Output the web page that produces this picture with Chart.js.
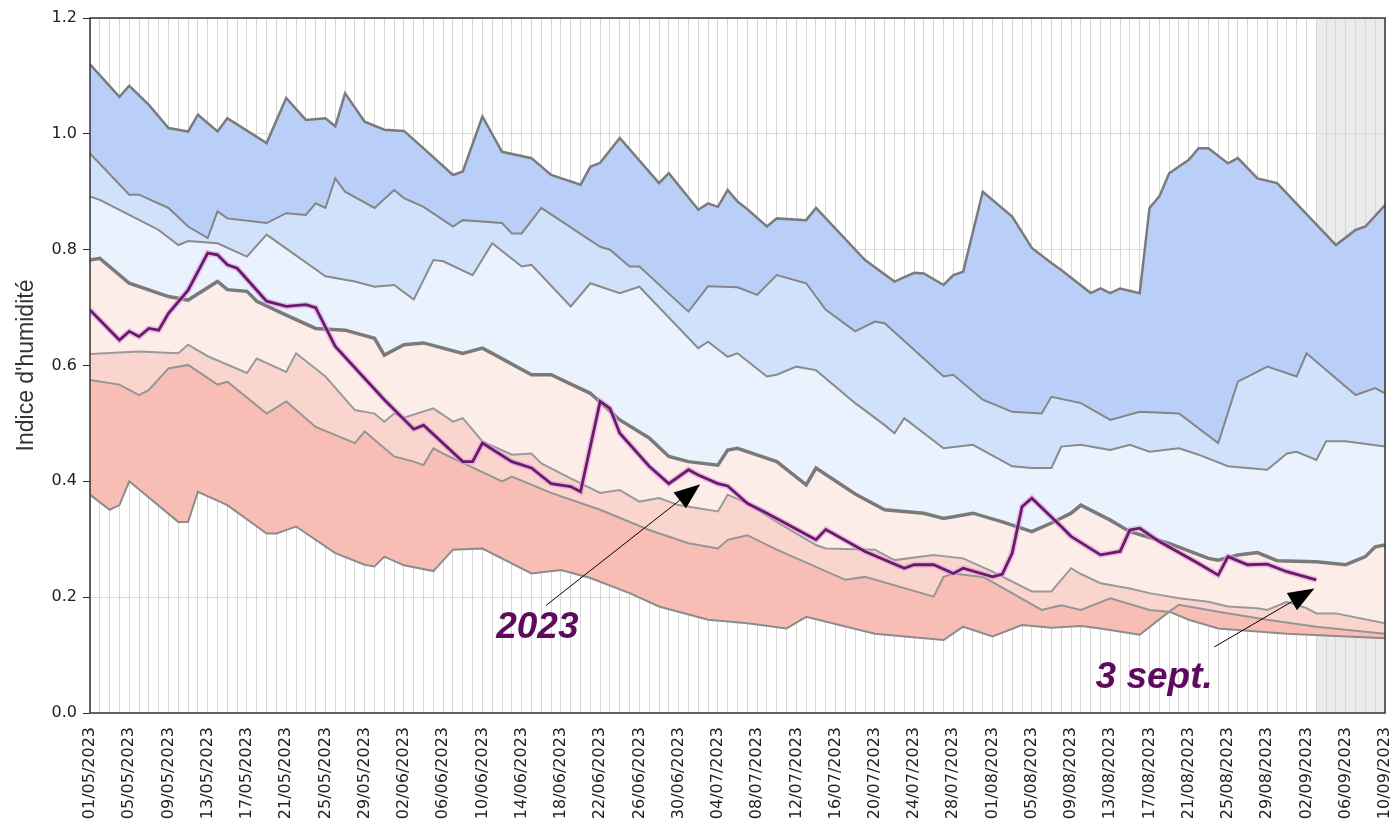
<!DOCTYPE html>
<html>
<head>
<meta charset="utf-8">
<title>Indice d'humidité 2023</title>
<script src="https://cdn.jsdelivr.net/npm/chart.js"></script>
<style>
  html, body { margin: 0; padding: 0; background: #fff; }
  #chart { display: block; }
</style>
</head>
<body>
<canvas id="chart" width="1392" height="827"></canvas>
<script>
// x = jours depuis le 01/05/2023, y = indice d'humidité
const tickLabels = ['01/05/2023', '05/05/2023', '09/05/2023', '13/05/2023', '17/05/2023', '21/05/2023',
  '25/05/2023', '29/05/2023', '02/06/2023', '06/06/2023', '10/06/2023', '14/06/2023', '18/06/2023',
  '22/06/2023', '26/06/2023', '30/06/2023', '04/07/2023', '08/07/2023', '12/07/2023', '16/07/2023',
  '20/07/2023', '24/07/2023', '28/07/2023', '01/08/2023', '05/08/2023', '09/08/2023', '13/08/2023',
  '17/08/2023', '21/08/2023', '25/08/2023', '29/08/2023', '02/09/2023', '06/09/2023', '10/09/2023'];

// [jour, valeur]
const serieMax = [[0,1.12],[3,1.064],[4,1.083],[6,1.05],[8,1.01],[10,1.004],[11,1.033],[13,1.004],[14,1.027],
  [18,0.984],[20,1.062],[22,1.024],[24,1.027],[25,1.013],[26,1.07],[28,1.021],[30,1.007],[32,1.005],[34,0.975],
  [37,0.929],[38,0.935],[40,1.03],[42,0.969],[45,0.958],[47,0.929],[50,0.912],[51,0.943],[52,0.95],[54,0.993],
  [58,0.915],[59,0.932],[62,0.869],[63,0.88],[64,0.874],[65,0.903],[66,0.883],[67,0.87],[69,0.84],[70,0.854],
  [73,0.851],[74,0.872],[79,0.782],[82,0.745],[84,0.76],[85,0.759],[87,0.739],[88,0.756],[89,0.762],[91,0.9],
  [94,0.857],[96,0.803],[98,0.777],[99,0.765],[102,0.725],[103,0.733],[104,0.725],[105,0.733],[107,0.725],
  [108,0.872],[109,0.892],[110,0.932],[112,0.955],[113,0.975],[114,0.975],[116,0.949],[117,0.958],[119,0.923],
  [121,0.915],[127,0.808],[129,0.834],[130,0.84],[132,0.877]];

const serieQ90 = [[0,0.966],[4,0.895],[5,0.895],[8,0.872],[10,0.84],[12,0.82],[13,0.866],[14,0.854],[18,0.846],
  [20,0.863],[22,0.86],[23,0.88],[24,0.872],[25,0.923],[26,0.9],[29,0.872],[31,0.903],[32,0.889],[34,0.874],
  [37,0.84],[38,0.851],[42,0.846],[43,0.828],[44,0.828],[46,0.872],[52,0.805],[53,0.8],[55,0.771],[56,0.771],
  [61,0.693],[63,0.737],[66,0.735],[68,0.722],[70,0.756],[73,0.742],[75,0.696],[78,0.659],[80,0.676],[81,0.673],
  [87,0.581],[88,0.584],[91,0.541],[94,0.52],[97,0.517],[98,0.546],[101,0.535],[104,0.506],[107,0.52],[111,0.517],
  [115,0.466],[117,0.572],[120,0.598],[123,0.581],[124,0.621],[129,0.549],[131,0.561],[132,0.552]];

const serieQ75 = [[0,0.892],[1,0.886],[4,0.86],[7,0.834],[9,0.808],[10,0.815],[13,0.811],[16,0.788],[18,0.826],
  [24,0.754],[27,0.745],[29,0.736],[31,0.739],[33,0.714],[35,0.782],[36,0.78],[39,0.756],[41,0.811],[44,0.771],
  [45,0.774],[49,0.702],[51,0.742],[54,0.725],[56,0.736],[62,0.63],[63,0.641],[65,0.615],[66,0.621],[69,0.581],
  [70,0.584],[72,0.598],[74,0.592],[78,0.535],[81,0.497],[82,0.483],[83,0.509],[87,0.457],[90,0.463],[94,0.426],
  [96,0.423],[98,0.423],[99,0.46],[101,0.463],[104,0.454],[106,0.463],[108,0.451],[111,0.457],[113,0.446],
  [116,0.426],[120,0.42],[122,0.448],[123,0.451],[125,0.437],[126,0.469],[128,0.469],[132,0.46]];

const serieMediane = [[0,0.782],[1,0.785],[4,0.742],[8,0.719],[9,0.716],[10,0.713],[13,0.745],[14,0.731],
  [16,0.728],[17,0.711],[20,0.687],[23,0.664],[26,0.661],[29,0.647],[30,0.618],[32,0.636],[34,0.639],[38,0.621],
  [40,0.63],[41,0.621],[45,0.584],[47,0.584],[51,0.552],[54,0.506],[57,0.475],[59,0.443],[61,0.434],[64,0.428],
  [65,0.454],[66,0.457],[70,0.434],[73,0.394],[74,0.423],[78,0.378],[81,0.351],[85,0.345],[87,0.336],[90,0.345],
  [93,0.33],[96,0.313],[98,0.328],[100,0.345],[101,0.359],[104,0.333],[106,0.313],[110,0.293],[114,0.267],
  [115,0.264],[117,0.273],[119,0.277],[121,0.263],[125,0.261],[128,0.256],[130,0.27],[131,0.287],[132,0.29]];

const serieQ25 = [[0,0.62],[5,0.624],[9,0.621],[10,0.636],[12,0.616],[16,0.587],[17,0.612],[20,0.589],[21,0.621],
  [24,0.581],[27,0.523],[29,0.517],[30,0.503],[31,0.517],[32,0.51],[35,0.526],[37,0.503],[38,0.509],[40,0.469],
  [43,0.446],[45,0.448],[46,0.431],[49,0.405],[52,0.38],[54,0.385],[56,0.365],[58,0.371],[60,0.359],[64,0.348],
  [65,0.377],[67,0.362],[70,0.33],[74,0.29],[75,0.284],[80,0.282],[82,0.264],[86,0.273],[89,0.267],[92,0.244],
  [96,0.21],[98,0.21],[100,0.25],[101,0.24],[103,0.224],[106,0.215],[108,0.207],[111,0.198],[114,0.192],
  [116,0.184],[119,0.181],[120,0.178],[122,0.192],[124,0.181],[125,0.172],[127,0.172],[132,0.155]];

const serieQ10 = [[0,0.575],[3,0.567],[5,0.549],[6,0.558],[8,0.595],[10,0.601],[13,0.567],[14,0.572],[18,0.517],
  [20,0.538],[23,0.494],[27,0.466],[28,0.486],[31,0.443],[33,0.434],[34,0.428],[35,0.457],[36,0.448],[42,0.4],
  [43,0.408],[47,0.38],[52,0.351],[57,0.316],[61,0.293],[64,0.284],[65,0.299],[67,0.307],[70,0.282],[77,0.23],
  [79,0.235],[86,0.201],[87,0.235],[88,0.241],[91,0.235],[92,0.226],[97,0.178],[99,0.186],[101,0.178],[104,0.198],
  [108,0.178],[110,0.175],[111,0.187],[115,0.175],[120,0.161],[125,0.149],[132,0.137]];

const serieMin = [[0,0.377],[2,0.351],[3,0.359],[4,0.4],[9,0.33],[10,0.33],[11,0.382],[14,0.359],[18,0.31],
  [19,0.31],[21,0.322],[25,0.276],[28,0.256],[29,0.253],[30,0.27],[32,0.255],[35,0.245],[37,0.282],[40,0.284],
  [45,0.241],[48,0.247],[51,0.233],[55,0.207],[58,0.184],[63,0.161],[67,0.155],[71,0.146],[73,0.166],[80,0.137],
  [87,0.126],[89,0.149],[92,0.132],[95,0.152],[98,0.147],[101,0.15],[103,0.146],[107,0.135],[110,0.175],
  [112,0.161],[115,0.146],[122,0.137],[132,0.129]];

const serie2023 = [[0,0.696],[3,0.644],[4,0.659],[5,0.65],[6,0.664],[7,0.661],[8,0.69],[10,0.73],[12,0.794],
  [13,0.791],[14,0.774],[15,0.768],[18,0.711],[20,0.702],[22,0.705],[23,0.7],[25,0.633],[30,0.541],[33,0.49],
  [34,0.497],[38,0.434],[39,0.434],[40,0.466],[43,0.434],[45,0.423],[47,0.396],[49,0.391],[50,0.382],[52,0.538],
  [53,0.526],[54,0.483],[57,0.426],[59,0.396],[61,0.42],[62,0.411],[64,0.396],[65,0.392],[67,0.362],[69,0.345],
  [74,0.299],[75,0.317],[79,0.279],[83,0.25],[84,0.256],[86,0.256],[88,0.241],[89,0.25],[92,0.235],[93,0.24],
  [94,0.276],[95,0.356],[96,0.371],[99,0.322],[100,0.305],[103,0.273],[105,0.279],[106,0.316],[107,0.319],
  [109,0.296],[113,0.258],[115,0.238],[116,0.27],[118,0.256],[120,0.257],[122,0.244],[125,0.23]];

const debutPrevision = 125; // zone grisée à partir du 03/09

function pts(serie) {
  return serie.map(p => ({ x: p[0], y: p[1] }));
}

function bande(label, serie, couleurTrait, epaisseur, couleurFond) {
  return {
    label: label,
    data: pts(serie),
    borderColor: couleurTrait,
    borderWidth: epaisseur,
    backgroundColor: couleurFond,
    fill: couleurFond ? '-1' : false,
    pointRadius: 0,
    tension: 0
  };
}

// zone grisée + cadre
const cadrePlugin = {
  id: 'cadre',
  beforeDraw(chart) {
    const { ctx, chartArea, scales } = chart;
    const x0 = scales.x.getPixelForValue(debutPrevision);
    ctx.save();
    ctx.fillStyle = '#ebebeb';
    ctx.fillRect(x0, chartArea.top, chartArea.right - x0, chartArea.bottom - chartArea.top);
    ctx.restore();
  },
  afterDraw(chart) {
    const { ctx, chartArea } = chart;
    ctx.save();
    ctx.strokeStyle = '#333';
    ctx.lineWidth = 1.5;
    ctx.strokeRect(chartArea.left, chartArea.top, chartArea.right - chartArea.left, chartArea.bottom - chartArea.top);
    ctx.restore();
  }
};

function fleche(ctx, x1, y1, x2, y2) {
  const ang = Math.atan2(y2 - y1, x2 - x1);
  const lg = 26, lr = 10;
  const bx = x2 - lg * Math.cos(ang), by = y2 - lg * Math.sin(ang);
  ctx.beginPath();
  ctx.moveTo(x1, y1);
  ctx.lineTo(bx, by);
  ctx.strokeStyle = '#000';
  ctx.lineWidth = 1;
  ctx.stroke();
  ctx.beginPath();
  ctx.moveTo(x2, y2);
  ctx.lineTo(bx + lr * Math.sin(ang), by - lr * Math.cos(ang));
  ctx.lineTo(bx - lr * Math.sin(ang), by + lr * Math.cos(ang));
  ctx.closePath();
  ctx.fillStyle = '#000';
  ctx.fill();
}

const notesPlugin = {
  id: 'notes',
  afterDraw(chart) {
    const { ctx, scales } = chart;
    const X = v => scales.x.getPixelForValue(v);
    const Y = v => scales.y.getPixelForValue(v);
    ctx.save();
    fleche(ctx, X(46.5), Y(0.186), X(62.2), Y(0.395));
    fleche(ctx, X(114.6), Y(0.114), X(124.8), Y(0.215));
    ctx.font = 'italic bold 37px "Liberation Sans", Arial, sans-serif';
    ctx.fillStyle = '#5e0b5e';
    ctx.textAlign = 'left';
    ctx.textBaseline = 'alphabetic';
    ctx.fillText('2023', X(41.4), Y(0.13));
    ctx.fillText('3 sept.', X(102.5), Y(0.043));
    ctx.restore();
  }
};

const ctx = document.getElementById('chart').getContext('2d');
new Chart(ctx, {
  type: 'line',
  data: {
    datasets: [
      { label: '2023', data: pts(serie2023), borderColor: '#6a1a6a', borderWidth: 2.8, pointRadius: 0, fill: false, tension: 0 },
      { label: '2023 halo', data: pts(serie2023), borderColor: 'rgba(222,160,222,0.6)', borderWidth: 6, pointRadius: 0, fill: false, tension: 0 },
      bande('Max', serieMax, '#7b7b7b', 2.5, null),
      bande('Q90', serieQ90, '#858585', 2, '#b9cff7'),
      bande('Q75', serieQ75, '#8a8a8a', 2, '#d0e2fb'),
      bande('Médiane', serieMediane, '#7a7a7a', 3.5, '#e9f2fd'),
      bande('Q25', serieQ25, '#9a9a9a', 2, '#fdede9'),
      bande('Q10', serieQ10, '#959595', 2, '#fad5ce'),
      bande('Min', serieMin, '#8c8c8c', 2, '#f8beb5')
    ]
  },
  options: {
    responsive: false,
    animation: false,
    events: [],
    layout: { padding: { top: 18, right: 7, left: 0, bottom: 0 } },
    plugins: {
      legend: { display: false },
      tooltip: { enabled: false }
    },
    scales: {
      x: {
        type: 'linear',
        min: 0,
        max: 132,
        border: { display: false },
        grid: { color: '#d6d6d6', lineWidth: 1, drawTicks: false },
        ticks: {
          stepSize: 1,
          autoSkip: false,
          minRotation: 90,
          maxRotation: 90,
          padding: 14,
          color: '#222',
          font: { family: '"DejaVu Sans", sans-serif', size: 16 },
          callback: v => (v % 4 === 0 ? tickLabels[v / 4] : '')
        },
        afterFit(scale) {
          scale.height = 114;
          scale.paddingLeft = 0;
          scale.paddingRight = 0;
        }
      },
      y: {
        min: 0,
        max: 1.2,
        border: { display: false },
        grid: { color: '#dcdcdc', lineWidth: 1, tickLength: 7, tickColor: '#333' },
        ticks: {
          stepSize: 0.2,
          padding: 6,
          color: '#222',
          font: { family: '"DejaVu Sans", sans-serif', size: 16 },
          callback: v => v.toFixed(1)
        },
        title: {
          display: true,
          text: "Indice d'humidité",
          color: '#333',
          padding: { top: 13, bottom: 0 },
          font: { family: '"Liberation Sans", Arial, sans-serif', size: 23 }
        },
        afterFit(scale) {
          scale.width = 90;
        }
      }
    }
  },
  plugins: [cadrePlugin, notesPlugin]
});
</script>
</body>
</html>
